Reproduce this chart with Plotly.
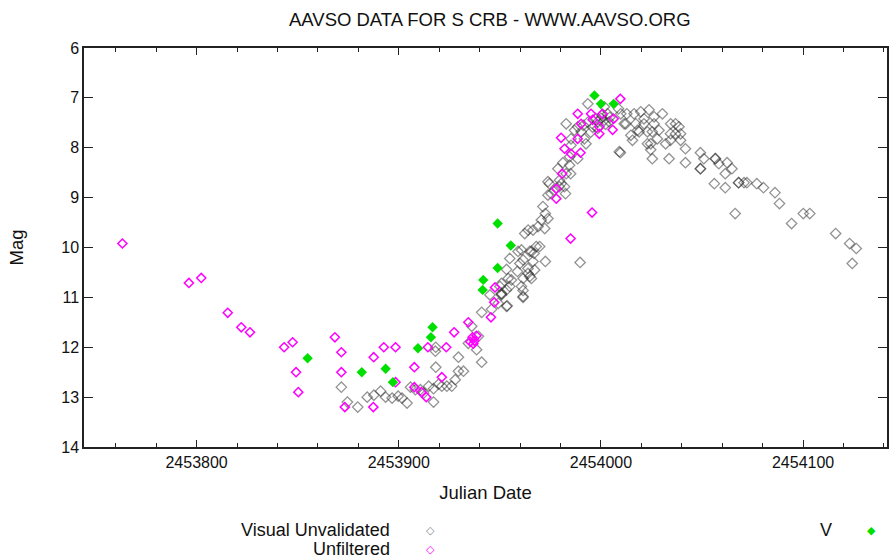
import plotly.graph_objects as go

# ---- Data (Julian Date, magnitude) ----
visual_jd = [
    2453871.6, 2453874.6, 2453879.7, 2453884.4, 2453887.7, 2453891.0, 2453893.5, 2453896.7,
    2453899.7, 2453901.6, 2453904.1, 2453905.8, 2453908.2, 2453910.7, 2453912.3, 2453914.8,
    2453917.2, 2453917.2, 2453919.7, 2453921.3, 2453923.8, 2453926.2, 2453927.9, 2453929.5,
    2453932.0, 2453918.3, 2453918.1, 2453918.3, 2453929.5, 2453941.0, 2453934.4, 2453938.5,
    2453939.4, 2453941.0, 2453945.9, 2453953.6, 2453950.8, 2453961.5, 2453961.5, 2453936.1,
    2453945.1, 2453949.2, 2453953.3, 2453950.8, 2453950.0, 2453953.3, 2453960.7, 2453961.5,
    2453954.1, 2453961.5, 2453965.6, 2453953.3, 2453958.7, 2453963.9, 2453967.2, 2453954.9,
    2453959.9, 2453966.4, 2453972.5, 2453989.7, 2453959.0, 2453965.6, 2453968.0, 2453962.3,
    2453966.4, 2453972.2, 2453970.5, 2453972.5, 2453971.3, 2453973.8, 2453982.5, 2453974.5,
    2453979.4, 2453968.9, 2453966.9, 2453950.8, 2453954.9, 2453955.7, 2453950.8, 2453964.8,
    2453961.5, 2453963.9, 2453960.7, 2453969.7, 2453964.8, 2453973.8, 2453964.0, 2453975.4,
    2453980.3, 2453985.0,
    2453982.8, 2453993.5, 2454001.7, 2454003.3, 2454001.7, 2453998.4, 2454004.1, 2454000.0,
    2454002.3, 2454009.8, 2454012.3, 2454016.4, 2454017.2, 2454018.9, 2454014.8, 2454021.3,
    2454023.8, 2454025.4, 2454024.6, 2454025.4, 2454015.6, 2454009.1, 2453990.2, 2453986.9,
    2453988.5, 2453985.2, 2453991.8, 2453992.6, 2453985.2, 2453984.5, 2453988.5, 2453981.2,
    2453984.5, 2453978.7, 2453982.8, 2453979.5, 2453973.8, 2453982.0, 2453977.1,
    2453991.3, 2453993.5, 2453995.9, 2453997.4, 2454000.4, 2454004.4, 2453998.4, 2453994.9,
    2454008.7, 2454012.8, 2454019.7, 2454030.4, 2454026.3, 2454011.5, 2454021.3, 2454026.3,
    2454034.5, 2454036.9, 2454038.6, 2454018.1, 2454023.0, 2454028.7, 2454034.4, 2454036.9,
    2454039.4, 2454027.9, 2454034.4, 2454039.4, 2454023.0, 2454032.0, 2454024.6, 2454041.8,
    2454009.6, 2454033.7, 2454041.8, 2454049.2, 2454050.9, 2454056.6, 2454056.6, 2454058.3,
    2454062.4, 2454064.8, 2454049.2, 2454049.2, 2454061.5, 2454056.1, 2454061.5, 2454068.1,
    2454068.1, 2454070.8, 2454072.2, 2454077.1, 2454080.4, 2454086.1, 2454088.3, 2454066.4,
    2454094.3, 2454100.1, 2454103.3, 2454116.1, 2454123.0, 2454126.3, 2454124.3,
]
visual_mag = [
    12.80, 13.10, 13.20, 13.00, 12.96, 12.88, 13.00, 13.02,
    12.98, 13.02, 13.12, 12.80, 12.85, 12.85, 12.92, 12.78,
    12.83, 13.10, 12.74, 12.78, 12.78, 12.78, 12.65, 12.48,
    12.48, 12.40, 12.08, 12.00, 12.20, 12.30, 11.92, 12.05,
    11.78, 11.30, 11.24, 11.17, 10.93, 10.98, 10.86, 11.58,
    10.95, 11.12, 11.18, 10.95, 10.78, 10.85, 10.78, 11.00,
    10.62, 10.62, 10.62, 10.44, 10.48, 10.52, 10.45, 10.22,
    10.32, 10.28, 10.28, 10.30, 10.08, 10.08, 9.98, 9.72,
    9.65, 9.62, 9.45, 9.32, 9.18, 8.95, 8.92, 8.72,
    8.78, 9.58, 10.12, 10.72, 10.78, 10.65, 10.92, 10.58,
    10.25, 10.42, 10.05, 9.98, 10.08, 9.42, 9.65, 8.92,
    8.72, 8.52,
    7.52, 7.12, 7.18, 7.32, 7.45, 7.48, 7.48, 7.41,
    7.53, 7.32, 7.52, 7.32, 7.52, 7.68, 7.75, 7.42,
    7.24, 7.68, 7.92, 8.22, 7.85, 8.08, 7.68, 7.65,
    7.58, 7.82, 7.82, 7.92, 7.95, 8.18, 8.22, 8.30,
    8.35, 8.42, 8.52, 8.65, 8.68, 8.78, 8.85,
    7.55, 7.49, 7.59, 7.41, 7.35, 7.39, 7.61, 7.69,
    7.22, 7.32, 7.28, 7.32, 7.38, 7.52, 7.52, 7.52,
    7.52, 7.52, 7.58, 7.65, 7.68, 7.65, 7.72, 7.72,
    7.72, 7.82, 7.85, 7.85, 7.92, 7.92, 8.04, 8.02,
    8.10, 8.22, 8.30, 8.10, 8.22, 8.22, 8.22, 8.32,
    8.30, 8.42, 8.42, 8.42, 8.52, 8.72, 8.80, 8.70,
    8.70, 8.70, 8.70, 8.72, 8.80, 8.90, 9.12, 9.32,
    9.52, 9.32, 9.32, 9.72, 9.92, 10.02, 10.32,
]

unfiltered_jd = [
    2453763.3, 2453796.2, 2453802.3, 2453815.4, 2453822.1, 2453826.4, 2453843.3, 2453847.5,
    2453849.2, 2453850.3, 2453868.4, 2453871.6, 2453871.6, 2453873.3, 2453887.6, 2453887.4,
    2453892.6, 2453898.4, 2453898.4, 2453907.7, 2453907.7, 2453911.2, 2453913.6, 2453914.4,
    2453921.3, 2453923.5, 2453927.4, 2453934.4, 2453936.5, 2453937.4, 2453935.4, 2453938.4,
    2453936.9, 2453945.6, 2453947.2, 2453947.6, 2453977.9, 2453977.9, 2453980.8, 2453985.0,
    2453995.6, 2453982.0, 2453985.2, 2453989.9, 2453980.3, 2453988.5, 2453990.2, 2453988.5,
    2453995.1, 2454000.8, 2453995.9, 2454006.3, 2453999.2, 2453999.2, 2454005.8, 2454009.6,
]
unfiltered_mag = [
    9.92, 10.71, 10.61, 11.31, 11.60, 11.70, 12.00, 11.90,
    12.50, 12.90, 11.80, 12.10, 12.50, 13.20, 12.20, 13.20,
    12.00, 12.00, 12.70, 12.40, 12.80, 12.90, 13.00, 12.00,
    12.60, 12.00, 11.70, 11.50, 11.80, 11.87, 11.89, 11.77,
    11.93, 11.40, 11.10, 10.80, 8.82, 9.02, 8.52, 9.82,
    9.30, 8.02, 8.12, 8.10, 7.80, 7.82, 7.52, 7.32,
    7.32, 7.32, 7.44, 7.42, 7.58, 7.72, 7.64, 7.02,
]

v_jd = [
    2453854.9, 2453881.7, 2453893.5, 2453897.1, 2453909.5, 2453915.9, 2453916.7, 2453941.5,
    2453941.8, 2453948.9, 2453955.4, 2453948.9, 2453996.8, 2454000.0, 2454006.3,
]
v_mag = [
    12.22, 12.50, 12.43, 12.70, 12.02, 11.80, 11.60, 10.85,
    10.65, 9.52, 9.96, 10.41, 6.95, 7.12, 7.12,
]

series_names = ["Visual Unvalidated", "Unfiltered", "V"]
title_text = "AAVSO DATA FOR S CRB - WWW.AAVSO.ORG"
x_title = "Julian Date"
y_title = "Mag"
x_tickvals = [2453800, 2453900, 2454000, 2454100]
y_tickvals = [6, 7, 8, 9, 10, 11, 12, 13, 14]

FONT = "Liberation Sans, Arial, sans-serif"

fig = go.Figure()
fig.add_trace(go.Scatter(
    x=visual_jd, y=visual_mag, mode="markers", name=series_names[0],
    marker=dict(symbol="diamond-open", size=8, color="rgba(40,40,40,0.5)",
                line=dict(width=1.3, color="rgba(40,40,40,0.5)")),
))
fig.add_trace(go.Scatter(
    x=unfiltered_jd, y=unfiltered_mag, mode="markers", name=series_names[1],
    marker=dict(symbol="diamond-open", size=7, color="#ff00ff",
                line=dict(width=1.5, color="#ff00ff")),
))
fig.add_trace(go.Scatter(
    x=v_jd, y=v_mag, mode="markers", name=series_names[2],
    marker=dict(symbol="diamond", size=8, color="#00e000",
                line=dict(width=0, color="#00e000")),
))

axis_common = dict(
    showgrid=False, zeroline=False, showline=True, linecolor="#222", linewidth=1.5,
    mirror="allticks", ticks="inside", tickcolor="#222", tickwidth=1,
    tickfont=dict(family=FONT, size=16, color="#111"),
)

fig.update_xaxes(
    range=[2453744.3, 2454141.5], tickmode="array", tickvals=x_tickvals,
    ticktext=[str(v) for v in x_tickvals], ticklen=7,
    minor=dict(dtick=20, tick0=2453800, ticks="inside", ticklen=4, tickcolor="#222"),
    title=dict(text=x_title, font=dict(family=FONT, size=18.5, color="#111"), standoff=16),
    **axis_common,
)
fig.update_yaxes(
    range=[14, 6], tickmode="array", tickvals=y_tickvals, ticklen=9,
    title=dict(text=y_title, font=dict(family=FONT, size=18.5, color="#111"), standoff=33),
    **axis_common,
)

fig.update_layout(
    width=890, height=559,
    margin=dict(l=84, r=1, t=48, b=112),
    paper_bgcolor="white", plot_bgcolor="white",
    showlegend=False,
    font=dict(family=FONT, color="#111"),
)

# Title and legend (as text)
def px_x(px):
    return (px - 84) / (890 - 84 - 1)

def px_y(py):
    return (559 - 112 - py) / (559 - 48 - 112)

fig.add_annotation(text=title_text, x=px_x(491), y=px_y(19), xref="paper", yref="paper",
                   showarrow=False, font=dict(family=FONT, size=18.5, color="#111"),
                   xanchor="center", yanchor="middle")

legend_items = [
    (series_names[0], 393, 530, "◇", "#888888", 431),
    (series_names[1], 393, 549, "◇", "#ff00ff", 431),
    (series_names[2], 836, 530, "◆", "#00e000", 873),
]
for name, tx, ty, sym, col, mx in legend_items:
    fig.add_annotation(text=name, x=px_x(tx), y=px_y(ty), xref="paper", yref="paper",
                       showarrow=False, xanchor="right", yanchor="middle",
                       font=dict(family=FONT, size=18, color="#111"))
    fig.add_annotation(text=sym, x=px_x(mx), y=px_y(ty), xref="paper", yref="paper",
                       showarrow=False, xanchor="center", yanchor="middle",
                       font=dict(family="DejaVu Sans", size=11, color=col))

fig.write_html("out.html")
